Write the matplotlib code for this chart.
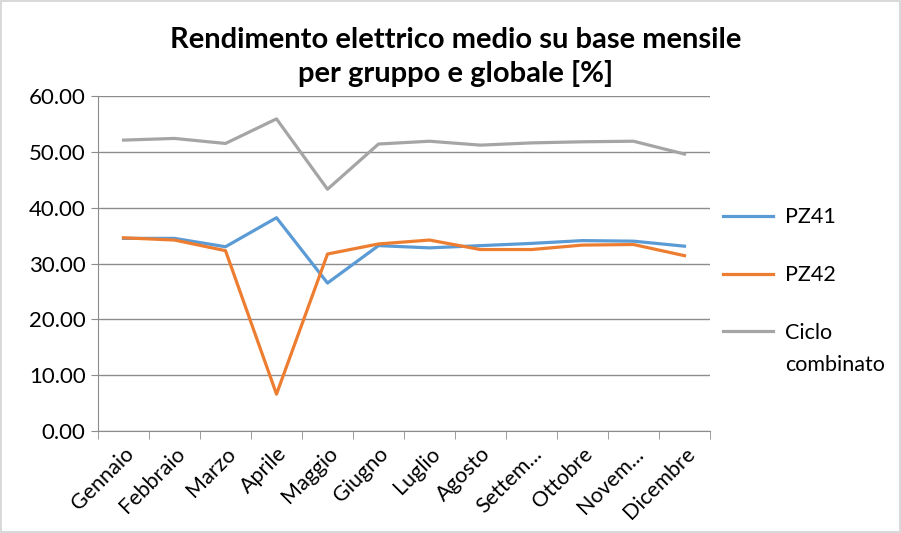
import matplotlib.pyplot as plt
import numpy as np

plt.rcParams['font.family'] = ['Lato', 'DejaVu Sans']

mesi = ['Gennaio', 'Febbraio', 'Marzo', 'Aprile', 'Maggio', 'Giugno', 'Luglio',
        'Agosto', 'Settem...', 'Ottobre', 'Novem...', 'Dicembre']
pz41 = [34.5, 34.5, 33.0, 38.2, 26.5, 33.2, 32.8, 33.2, 33.6, 34.1, 34.0, 33.1]
pz42 = [34.6, 34.2, 32.3, 6.6, 31.7, 33.5, 34.2, 32.5, 32.5, 33.3, 33.4, 31.4]
ciclo = [52.1, 52.4, 51.5, 55.9, 43.3, 51.4, 51.9, 51.2, 51.6, 51.8, 51.9, 49.6]

fig = plt.figure(figsize=(9.01, 5.33), dpi=100)
fig.patch.set_edgecolor('#d9d9d9')
fig.patch.set_linewidth(1.5)
ax = fig.add_axes([98 / 901, 1 - 431 / 533, 612 / 901, 335 / 533])

x = np.arange(len(mesi))
ax.plot(x, pz41, color='#5B9BD5', lw=2.3, label='PZ41')
ax.plot(x, pz42, color='#ED7D31', lw=2.3, label='PZ42')
ax.plot(x, ciclo, color='#A5A5A5', lw=2.3, label='Ciclo\ncombinato')

ax.set_xlim(-0.5, len(mesi) - 0.5)
ax.set_ylim(0, 60)
ax.set_yticks(np.arange(0, 61, 10))
ax.set_yticklabels([f'{v:.2f}' for v in np.arange(0, 61, 10)], fontsize=16)
ax.grid(axis='y', color='#8c8c8c', lw=1)
ax.set_axisbelow(True)

ax.set_xticks(x)
ax.set_xticklabels(mesi, rotation=45, ha='right', rotation_mode='anchor', fontsize=15.5)
ax.tick_params(axis='x', length=0, pad=9)
ax.set_xticks(np.arange(-0.5, len(mesi), 1), minor=True)
ax.tick_params(axis='x', which='minor', length=6, color='#8c8c8c')
ax.tick_params(axis='y', length=5, color='#8c8c8c', pad=4)

for s in ['top', 'right']:
    ax.spines[s].set_visible(False)
for s in ['left', 'bottom']:
    ax.spines[s].set_color('#8c8c8c')

fig.text(456 / 901, 1 - 57 / 533, 'Rendimento elettrico medio su base mensile\nper gruppo e globale [%]',
         ha='center', va='center', fontsize=21, fontweight='bold', linespacing=1.3)

leg = ax.legend(loc='upper left', bbox_to_anchor=(704 / 901, 1 - 188 / 533), bbox_transform=fig.transFigure,
                frameon=False, fontsize=15.5, handlelength=2.3, labelspacing=1.75, handletextpad=0.55)
for t in leg.get_texts():
    t.set_linespacing(1.75)
# put the grey handle next to the first line of its label
hl = leg.get_lines()[2]
hl.set_ydata(np.asarray(hl.get_ydata()) + 13)

fig.savefig('out.png', dpi=100)
